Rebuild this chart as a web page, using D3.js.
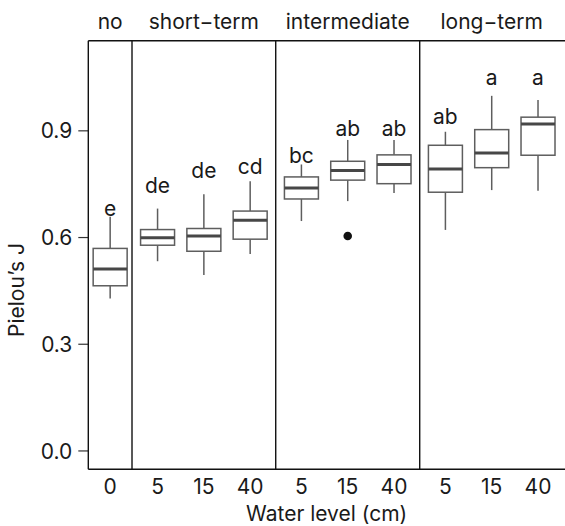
<!DOCTYPE html>
<html>
<head>
<meta charset="utf-8">
<script src="https://cdn.jsdelivr.net/npm/d3@7"></script>
<style>
body{margin:0;background:#fff}
text{font-family:Inter,"Liberation Sans",Arial,sans-serif;fill:#1a1a1a}
</style>
</head>
<body>
<svg></svg>
<script>

// panels and the boxes in them
var groups = ["no","short\u2212term","intermediate","long\u2212term"]
var groupOf = [0,1,1,1,2,2,2,3,3,3]
var levels = ["0","5","15","40","5","15","40","5","15","40"]

// box stats
var whiskerLow  = [0.427,0.532,0.493,0.552,0.645,0.701,0.724,0.620,0.732,0.730]
var q1          = [0.463,0.577,0.560,0.594,0.707,0.760,0.750,0.726,0.795,0.830]
var median      = [0.510,0.598,0.603,0.647,0.738,0.787,0.804,0.791,0.836,0.918]
var q3          = [0.568,0.621,0.624,0.673,0.769,0.813,0.831,0.858,0.902,0.937]
var whiskerHigh = [0.657,0.680,0.720,0.757,0.804,0.873,0.873,0.896,0.997,0.985]

var outlierBox = [5]
var outlierValue = [0.603]

var letters = ["e","de","de","cd","bc","ab","ab","ab","a","a"]
var letterY = [0.660,0.724,0.767,0.776,0.807,0.885,0.885,0.917,1.027,1.027]

var yTicks = [0.0,0.3,0.6,0.9]


var screen = {width:565,height:526}
var margins = {top:40.7,left:88.3,bottom:56.7}
var fontSize = 21

// slot widths of each panel (the "no" panel is a bit narrower)
var panelSlots = [0.944,3.104,3.11,3.11]
var slotPx = 46.3

var panelStart = []
var acc = 0
panelSlots.forEach(function(w){ panelStart.push(acc); acc += w })
var totalSlots = acc

// position of every box in slot units
var boxPos = groupOf.map(function(g,i){
    var first = groupOf.indexOf(g)
    var count = groupOf.filter(function(x){return x==g}).length
    var pad = (panelSlots[g]-(count-1))/2
    return panelStart[g] + pad + (i-first)
})

var xScale = d3.scaleLinear()
               .domain([0,totalSlots])
               .range([margins.left, margins.left+totalSlots*slotPx])
var yScale = d3.scaleLinear()
               .domain([-0.053,1.152])
               .range([screen.height-margins.bottom, margins.top])

var svg = d3.select("svg")
            .attr("width",screen.width)
            .attr("height",screen.height)

var bottom = screen.height-margins.bottom
var halfBox = 0.367

// y axis
var yAxis = d3.axisLeft(yScale)
              .tickValues(yTicks)
              .tickFormat(d3.format(".1f"))
              .tickSizeInner(10)
              .tickSizeOuter(0)
              .tickPadding(6)

var yg = svg.append("g")
   .attr("id","yAxis")
   .attr("transform","translate("+margins.left+",0)")
   .call(yAxis)
yg.select(".domain").remove()
yg.selectAll("line").attr("stroke","#333").attr("stroke-width",1.2)
yg.selectAll("text")
  .attr("font-size",fontSize)
  .attr("font-family",null)
  .attr("fill","#1a1a1a")
  .attr("dy","0.36em")

// x labels under each box
svg.append("g")
   .selectAll("text")
   .data(levels)
   .enter()
   .append("text")
   .attr("x",function(d,i){return xScale(boxPos[i])})
   .attr("y",493.5)
   .attr("text-anchor","middle")
   .attr("font-size",fontSize)
   .text(function(d){return d})

// facet strip labels
svg.append("g")
   .selectAll("text")
   .data(groups)
   .enter()
   .append("text")
   .attr("x",function(d,i){return xScale(panelStart[i]+panelSlots[i]/2)})
   .attr("y",28.5)
   .attr("text-anchor","middle")
   .attr("font-size",fontSize)
   .text(function(d){return d})

// axis titles
svg.append("text")
   .attr("x",(margins.left+screen.width)/2)
   .attr("y",521)
   .attr("text-anchor","middle")
   .attr("font-size",fontSize)
   .text("Water level (cm)")

svg.append("text")
   .attr("transform","translate(24,290) rotate(-90)")
   .attr("text-anchor","middle")
   .attr("font-size",fontSize)
   .text("Pielou\u2019s J")

// boxes
var boxes = svg.append("g")
               .attr("id","boxes")
               .selectAll("g")
               .data(levels)
               .enter()
               .append("g")

boxes.append("line")
     .attr("x1",function(d,i){return xScale(boxPos[i])})
     .attr("x2",function(d,i){return xScale(boxPos[i])})
     .attr("y1",function(d,i){return yScale(whiskerLow[i])})
     .attr("y2",function(d,i){return yScale(q1[i])})
     .attr("stroke","#5e5e5e")
     .attr("stroke-width",1.5)

boxes.append("line")
     .attr("x1",function(d,i){return xScale(boxPos[i])})
     .attr("x2",function(d,i){return xScale(boxPos[i])})
     .attr("y1",function(d,i){return yScale(q3[i])})
     .attr("y2",function(d,i){return yScale(whiskerHigh[i])})
     .attr("stroke","#5e5e5e")
     .attr("stroke-width",1.5)

boxes.append("rect")
     .attr("x",function(d,i){return xScale(boxPos[i]-halfBox)})
     .attr("width",function(d,i){return xScale(boxPos[i]+halfBox)-xScale(boxPos[i]-halfBox)})
     .attr("y",function(d,i){return yScale(q3[i])})
     .attr("height",function(d,i){return yScale(q1[i])-yScale(q3[i])})
     .attr("fill","white")
     .attr("stroke","#5e5e5e")
     .attr("stroke-width",1.5)

boxes.append("line")
     .attr("x1",function(d,i){return xScale(boxPos[i]-halfBox)})
     .attr("x2",function(d,i){return xScale(boxPos[i]+halfBox)})
     .attr("y1",function(d,i){return yScale(median[i])})
     .attr("y2",function(d,i){return yScale(median[i])})
     .attr("stroke","#474747")
     .attr("stroke-width",3)

// outliers
svg.append("g")
   .selectAll("circle")
   .data(outlierValue)
   .enter()
   .append("circle")
   .attr("cx",function(d,i){return xScale(boxPos[outlierBox[i]])})
   .attr("cy",function(d){return yScale(d)})
   .attr("r",4.3)
   .attr("fill","#111")

// significance letters
svg.append("g")
   .selectAll("text")
   .data(letters)
   .enter()
   .append("text")
   .attr("x",function(d,i){return xScale(boxPos[i])})
   .attr("y",function(d,i){return yScale(letterY[i])})
   .attr("text-anchor","middle")
   .attr("font-size",fontSize)
   .text(function(d){return d})

// panel frame: top, left, bottom and the separators (no right edge)
var frame = svg.append("g").attr("stroke","#111").attr("stroke-width",1.4)
frame.append("line")
     .attr("x1",margins.left).attr("x2",screen.width)
     .attr("y1",margins.top).attr("y2",margins.top)
frame.append("line")
     .attr("x1",margins.left).attr("x2",screen.width)
     .attr("y1",bottom).attr("y2",bottom)
frame.append("line")
     .attr("x1",margins.left).attr("x2",margins.left)
     .attr("y1",margins.top).attr("y2",bottom)
frame.selectAll("line.sep")
     .data(panelStart.slice(1))
     .enter()
     .append("line")
     .attr("class","sep")
     .attr("x1",function(d){return xScale(d)})
     .attr("x2",function(d){return xScale(d)})
     .attr("y1",margins.top)
     .attr("y2",bottom)

</script>
</body>
</html>
